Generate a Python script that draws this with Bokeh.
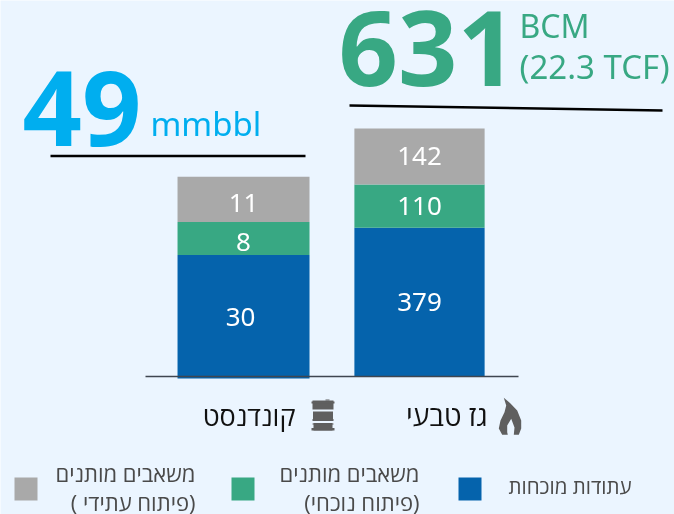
from bokeh.plotting import figure
from bokeh.models import Range1d
from bokeh.core.properties import value
from bokeh.embed import file_html
from bokeh.resources import INLINE

categories = ["קונדנסט", "גז טבעי"]
series_names = ["עתודות מוכחות", "משאבים מותנים\n(פיתוח נוכחי)", "משאבים מותנים\n( פיתוח עתידי)"]
condensate = [30, 8, 11]
gas = [379, 110, 142]
total_condensate = "49"
total_gas = "631"
unit_condensate = "mmbbl"
unit_gas = ["BCM", "(22.3 TCF)"]
colors = ["#0563AC", "#38A883", "#A9A9A9"]

BG = "#EBF5FF"
CYAN = "#00AEEF"
GREEN = "#38A883"
ICON = "#5F5F5F"
NUM = "Noto Sans"
HEB = "Open Sans"

W, H = 674, 514
p = figure(width=W, height=H, output_backend="svg", toolbar_location=None,
           x_range=Range1d(-1.381, 2.449), y_range=Range1d(-351, 957),
           min_border=0, min_border_left=0, min_border_right=0, min_border_top=0, min_border_bottom=0,
           background_fill_color=BG, border_fill_color=BG, outline_line_color=None)
p.axis.visible = False
p.grid.visible = False
p.styles = {"position": "fixed", "left": "0", "top": "0"}
p.extra_y_ranges = {"cond": Range1d(-33.0, 91.75), "py": Range1d(H, 0)}
p.extra_x_ranges = {"px": Range1d(0, W)}

PX = dict(x_range_name="px", y_range_name="py")

def stack(x, vals, width, yname):
    base = 0
    kw = {} if yname is None else {"y_range_name": yname}
    for v, c in zip(vals, colors):
        p.vbar(x=[x], bottom=[base], top=[base + v], width=width, fill_color=c, line_color=None, **kw)
        base += v

stack(0, condensate, 0.75, "cond")
stack(1, gas, 0.74, None)

def bar_labels(x, vals, yname, dx, dy):
    base = 0
    kw = {} if yname is None else {"y_range_name": yname}
    for i, v in enumerate(vals):
        p.text(x=[x], y=[base + v / 2], text=[str(v)], text_color="white", text_align="center",
               text_baseline="middle", text_font=value(NUM), text_font_size="26px",
               x_offset=dx[i], y_offset=dy[i], **kw)
        base += v

bar_labels(0, condensate, "cond", [-3, 0, 0], [0, 4, 4])
bar_labels(1, gas, None, [0, 0, 0], [0, 0, -1])

def txt(x, y, s, color, size, font, align="left", style="normal"):
    # y is the wanted baseline in page pixels; this text placement sits about 0.4em low
    p.text(x=[x], y=[y - 0.4 * size], text=[s], text_color=color, text_align=align, text_baseline="alphabetic",
           text_font=value(font), text_font_size=f"{size}px", text_font_style=style, **PX)

# baseline and rules
p.line([145, 518], [376, 376], line_color="#3F4650", line_width=1.5, **PX)
p.line([50, 305], [155.5, 155.5], line_color="black", line_width=2.5, **PX)
p.line([349, 662], [105, 110], line_color="black", line_width=2.5, **PX)

# headline totals
txt(22, 150, total_condensate, CYAN, 104, NUM, style="bold")
txt(338, 90, total_gas, GREEN, 104, NUM, style="bold")
txt(150, 136, unit_condensate, CYAN, 33, NUM)
txt(519, 38, unit_gas[0], GREEN, 32, NUM)
txt(519, 79, unit_gas[1], GREEN, 33, NUM)

# category names
txt(295, 426, categories[0], "#111111", 27, HEB, "right")
txt(487, 426, categories[1], "#111111", 28, HEB, "right")

# barrel icon
p.quad(left=[312, 311, 325, 312.5, 312, 313, 312, 311],
       right=[333, 334, 329, 332.5, 333, 332, 333, 334],
       top=[400, 401, 399, 411, 418.5, 422.5, 423, 427.5],
       bottom=[409, 403, 400, 420, 420.5, 430, 424, 430],
       fill_color=ICON, line_color=None, **PX)

# flame icon
flame_x = [503.3, 510, 516.7, 520.7, 520.7, 518.3, 513.3, 514, 510.7, 506.7, 506.7, 507.3, 501.7, 498.3, 500, 504, 505.7]
flame_y = [397.3, 403, 410, 420, 428, 434.3, 434.3, 427, 418.3, 425, 431.7, 434.3, 434.3, 428, 420, 411.7, 405]
p.patch(flame_x, flame_y, fill_color=ICON, line_color=None, **PX)

# legend
for left, c in zip([458, 231, 14], colors):
    p.quad(left=[left], right=[left + 23], top=[477], bottom=[500], fill_color=c, line_color=None, **PX)
txt(631, 494, series_names[0], "#4A4A4A", 20.5, HEB, "right")
for right, name in zip([419, 195], series_names[1:]):
    a, b = name.split("\n")
    txt(right, 481, a, "#4A4A4A", 22, HEB, "right")
    txt(right, 510, b, "#4A4A4A", 22, HEB, "right")

open("out.html", "w").write(file_html(p, INLINE))
